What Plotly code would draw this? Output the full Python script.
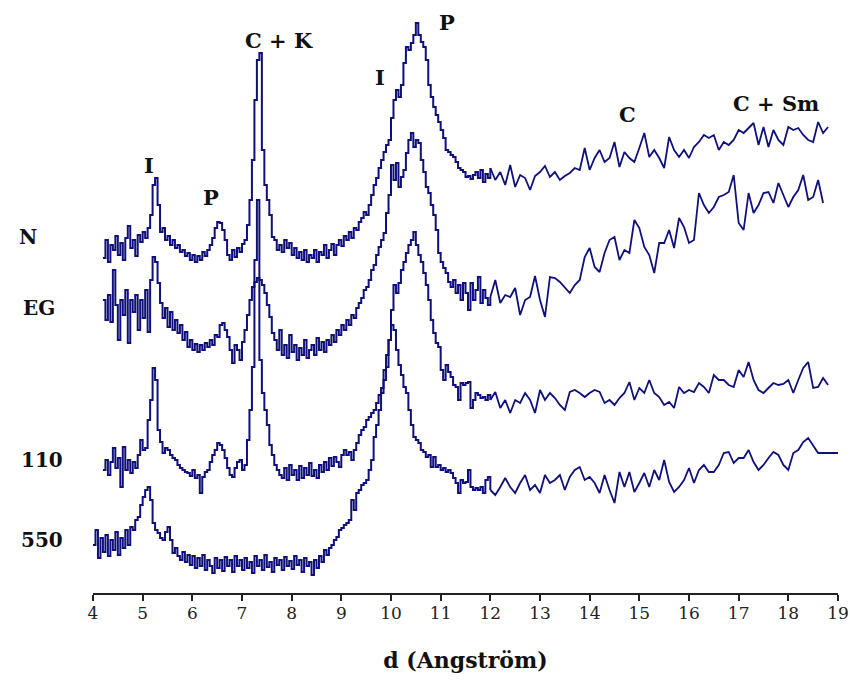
import plotly.graph_objects as go

# Sampling grid of the diffractograms (d spacing, Angstrom)
d_fine = [round(4.0 + 0.05 * i, 2) for i in range(161)]      # 4.00 .. 12.00
d_coarse = [round(12.1 + 0.1 * i, 1) for i in range(70)]     # 12.1 .. 19.0

# Relative intensities (stacked traces, arbitrary units)
N_fine = [None, None, None, None,
    342, 360, 338, 355, 350, 364, 345, 357, 340, 362, 374, 352, 360, 344, 365, 358,
    368, 362, 372, 385, 415, 422, 395, 368, 372, 360, 364, 355, 360, 352, 355, 348,
    350, 344, 347, 340, 345, 338, 344, 340, 348, 344, 350, 355, 362, 372, 378, 377,
    370, 360, 345, 340, 350, 343, 352, 348, 356, 360, 375, 400, 440, 500, 540, 547,
    450, 415, 400, 385, 363, 360, 350, 355, 348, 360, 352, 357, 345, 352, 342, 348,
    340, 350, 338, 345, 342, 350, 338, 348, 345, 355, 342, 350, 356, 345, 355, 360,
    354, 364, 360, 368, 362, 372, 370, 378, 382, 388, 385, 395, 405, 415, 422, 432,
    440, 448, 455, 460, 482, 500, 510, 503, 515, 537, 553, 550, 557, 565, 577, 565,
    558, 553, 540, 515, 503, 493, 485, 478, 470, 462, 450, 448, 445, 443, 438, 432,
    430, 428, 423, 424, 421, 425, 428, 422, 430, 418, 426, 422, 432]
N_coarse = [
    420, 428, 415, 435, 413, 425, 422, 410, 424, 428, 434, 423, 428, 420, 424, 427,
    432, 430, 452, 430, 442, 450, 438, 442, 458, 433, 448, 442, 438, 452, 467, 443,
    450, 442, 432, 463, 450, 443, 450, 442, 453, 458, 465, 462, 465, 450, 458, 455,
    460, 470, 467, 472, 477, 455, 473, 453, 470, 460, 455, 473, 470, 472, 465, 460,
    458, 478, 467, 473, None, None]

EG_fine = [None, None, None, None,
    300, 280, 305, 278, 330, 295, 260, 300, 285, 310, 257, 300, 288, 305, 270, 300,
    282, 310, 268, 320, 343, 338, 317, 297, 282, 292, 273, 288, 270, 280, 267, 275,
    260, 268, 253, 260, 250, 256, 248, 255, 250, 257, 253, 260, 255, 265, 263, 275,
    277, 270, 263, 250, 237, 255, 250, 240, 258, 270, 285, 300, 313, 318, 322, 320,
    315, 307, 295, 283, 267, 260, 250, 270, 245, 255, 242, 265, 248, 255, 240, 252,
    245, 260, 242, 250, 255, 245, 262, 250, 258, 248, 260, 255, 265, 258, 270, 265,
    275, 270, 280, 275, 285, 282, 292, 297, 302, 310, 313, 320, 330, 335, 345, 353,
    360, 367, 387, 405, 435, 420, 437, 413, 423, 430, 447, 460, 467, 453, 460, 457,
    440, 428, 413, 407, 395, 385, 370, 347, 338, 332, 327, 318, 313, 320, 307, 315,
    300, 317, 307, 290, 317, 300, 310, 323, 297, 310, 302, 295, 303]
EG_coarse = [
    320, 297, 305, 303, 312, 285, 300, 303, 324, 300, 283, 323, 322, 318, 312, 307,
    315, 320, 343, 352, 333, 328, 347, 360, 363, 340, 350, 347, 380, 372, 353, 345,
    327, 357, 357, 370, 352, 382, 373, 357, 360, 407, 395, 387, 393, 403, 405, 408,
    425, 377, 370, 407, 387, 395, 407, 408, 397, 417, 405, 393, 403, 410, 425, 400,
    403, 420, 397, None, None, None]

T110_fine = [None, None, None, None,
    130, 140, 125, 138, 152, 132, 142, 113, 153, 130, 140, 127, 138, 132, 145, 160,
    150, 152, 180, 200, 232, 220, 170, 158, 147, 152, 150, 145, 142, 140, 135, 132,
    130, 128, 127, 124, 130, 122, 125, 107, 123, 128, 130, 138, 145, 150, 157, 155,
    150, 142, 132, 125, 123, 132, 138, 140, 130, 135, 160, 190, 233, 340, 400, 240,
    207, 190, 175, 155, 145, 135, 130, 125, 122, 132, 120, 135, 125, 130, 120, 134,
    122, 132, 125, 137, 124, 130, 122, 135, 128, 138, 130, 142, 134, 143, 138, 133,
    145, 150, 145, 148, 140, 150, 157, 165, 170, 173, 180, 183, 187, 190, 197, 205,
    212, 220, 233, 260, 290, 315, 307, 317, 330, 338, 347, 355, 360, 368, 355, 345,
    338, 327, 315, 300, 280, 267, 257, 253, 230, 220, 235, 228, 223, 215, 213, 200,
    217, 215, 217, 218, 192, 200, 207, 205, 202, 203, 200, 205, 200]
T110_coarse = [
    208, 192, 200, 187, 200, 197, 207, 200, 187, 210, 200, 207, 202, 195, 190, 208,
    210, 207, 203, 207, 210, 208, 197, 200, 195, 202, 207, 218, 200, 212, 207, 220,
    207, 203, 195, 198, 192, 213, 207, 210, 208, 217, 213, 207, 225, 220, 220, 215,
    213, 230, 223, 238, 220, 210, 207, 212, 217, 215, 216, 220, 207, 220, 232, 238,
    212, 213, 222, 215, None, None]

T550_fine = [
    55, 70, 42, 62, 48, 65, 44, 60, 50, 68, 45, 62, 52, 70, 55, 73,
    70, 80, 83, 95, 103, 110, 113, 100, 77, 70, 67, 62, 60, 68, 73, 60,
    47, 52, 44, 40, 48, 38, 45, 35, 44, 32, 42, 34, 45, 30, 40, 34,
    27, 42, 32, 40, 29, 43, 34, 40, 28, 44, 34, 40, 30, 42, 32, 38,
    27, 44, 34, 40, 30, 45, 33, 38, 28, 42, 35, 40, 30, 43, 34, 39,
    31, 44, 35, 40, 28, 42, 34, 38, 25, 40, 32, 44, 38, 50, 45, 52,
    55, 60, 63, 70, 72, 75, 77, 80, 100, 90, 107, 110, 115, 117, 120, 130,
    140, 163, 175, 190, 207, 230, 245, 260, 275, 270, 250, 235, 225, 213, 207, 190,
    175, 163, 160, 157, 150, 148, 143, 145, 133, 143, 133, 135, 130, 132, 128, 130,
    127, 122, 117, 107, 120, 117, 118, 130, 113, 110, 112, 110, 113, 107, 120, 123,
    110]
T550_coarse = [
    105, 113, 122, 113, 107, 117, 125, 110, 115, 107, 125, 117, 120, 125, 110, 123,
    130, 133, 120, 123, 117, 107, 125, 110, 97, 128, 113, 128, 108, 117, 127, 113,
    130, 120, 140, 118, 108, 113, 120, 132, 117, 130, 135, 128, 128, 135, 147, 148,
    137, 142, 142, 150, 138, 130, 135, 142, 148, 145, 135, 130, 147, 150, 158, 162,
    155, 147, 147, 147, 147, 147]

series = [
    ("N", N_fine, N_coarse),
    ("EG", EG_fine, EG_coarse),
    ("110", T110_fine, T110_coarse),
    ("550", T550_fine, T550_coarse),
]

# Peak labels
peak_labels = ["I", "P", "C + K", "I", "P", "C", "C + Sm"]
peak_d = [5.13, 6.38, 7.74, 9.78, 11.13, 14.77, 17.75]
peak_y = [435, 403, 560, 523, 578, 486, 497]

# Sample labels on the left
sample_labels = ["N", "EG", "110", "550"]
sample_y = [363, 292, 140, 60]

tick_vals = list(range(4, 20))

LINE = "#10107a"
fig = go.Figure()
for name, fine, coarse in series:
    # densely sampled low-d part: stepped recorder look
    fig.add_trace(go.Scatter(x=d_fine, y=fine, mode="lines", name=name,
                             line=dict(color=LINE, width=2, shape="hv"),
                             showlegend=False, hoverinfo="skip"))
    # coarser high-d part, joined to the last fine point
    fig.add_trace(go.Scatter(x=[d_fine[-1]] + d_coarse, y=[fine[-1]] + coarse,
                             mode="lines", name=name,
                             line=dict(color=LINE, width=1.8),
                             showlegend=False, hoverinfo="skip"))

for t, x, y in zip(peak_labels, peak_d, peak_y):
    fig.add_annotation(x=x, y=y, xref="x", yref="y", text="<b>%s</b>" % t,
                       showarrow=False, xanchor="center", yanchor="middle",
                       font=dict(family="DejaVu Serif", size=21, color="#111"))

label_x = [-0.087, -0.073, -0.068, -0.068]
for t, x, y in zip(sample_labels, label_x, sample_y):
    fig.add_annotation(x=x, y=y, xref="paper", yref="y", text="<b>%s</b>" % t,
                       showarrow=False, xanchor="center", yanchor="middle",
                       font=dict(family="DejaVu Serif", size=20, color="#111"))

fig.update_layout(
    width=850, height=682,
    margin=dict(l=93, r=12, t=0, b=89),
    paper_bgcolor="white", plot_bgcolor="white",
    xaxis=dict(range=[4, 19], tickvals=tick_vals, ticktext=[str(v) for v in tick_vals],
               showgrid=False, zeroline=False, showline=True, linecolor="#222",
               linewidth=2, ticks="outside", ticklen=6, tickwidth=2, tickcolor="#222",
               ticklabelstandoff=-2,
               tickfont=dict(family="DejaVu Serif", size=17, color="#222"),
               title=dict(text="<b>d (Angström)</b>", standoff=30,
                          font=dict(family="DejaVu Serif", size=22, color="#111"))),
    yaxis=dict(range=[7, 600], visible=False, showgrid=False, zeroline=False),
)

fig.write_html("out.html")
